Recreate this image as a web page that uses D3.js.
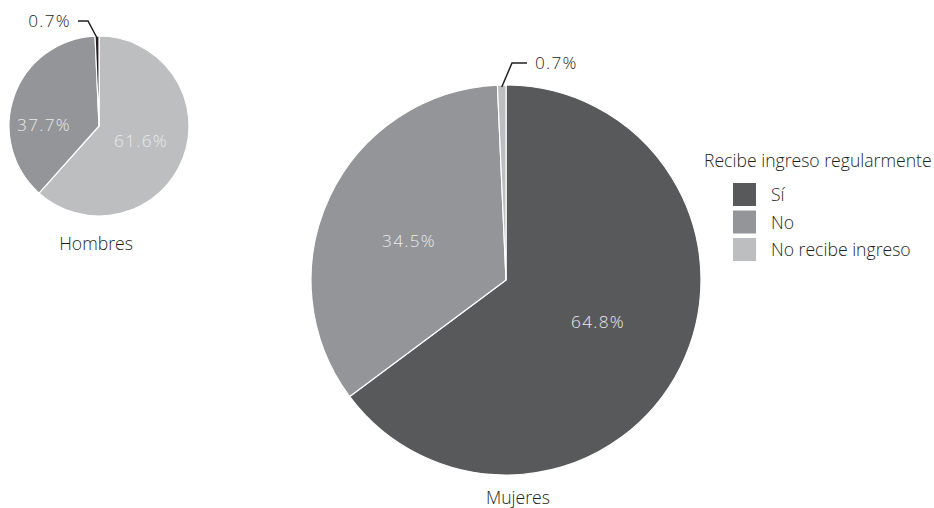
<!DOCTYPE html>
<html>
<head>
<meta charset="utf-8">
<script src="https://cdn.jsdelivr.net/npm/d3@7"></script>
<style>
  html, body { margin: 0; padding: 0; background: #ffffff; }
  svg { display: block; }
  text { font-family: "Open Sans", "Lato", sans-serif; font-weight: 300; }
</style>
</head>
<body>
<svg id="chart" width="934" height="508"></svg>
<script>
// Income categories and shares (%)
const categories = ["Sí", "No", "No recibe ingreso"];
const hombresValues = [61.6, 37.7, 0.7];
const mujeresValues = [64.8, 34.5, 0.7];
const legendTitle = "Recibe ingreso regularmente";
const groupNames = ["Hombres", "Mujeres"];

const legendColors = ["#58595b", "#939598", "#bcbec0"];
const hombresColors = ["#bcbec0", "#939598", "#231f20"];

const TEXT_SIZE = 17.6;
const NUM_SIZE = 17.2;
const NUM_SPACING = 1.3;

const svg = d3.select("#chart");
const pie = d3.pie().sort(null).value(d => d);
const fmt = v => d3.format(".1f")(v) + "%";

function drawPie(values, colors, cx, cy, r, labelOffsets, name, nameOffset) {
  const g = svg.append("g").attr("transform", `translate(${cx},${cy})`);
  const arcs = pie(values);
  const arc = d3.arc().innerRadius(0).outerRadius(r);
  g.selectAll("path").data(arcs).join("path")
    .attr("d", arc)
    .attr("fill", (d, i) => colors[i])
    .attr("stroke", "#ffffff")
    .attr("stroke-width", 1.2)
    .attr("stroke-linejoin", "round");
  // in-slice labels for the two large slices
  arcs.forEach((d, i) => {
    const o = labelOffsets[i];
    if (!o) return;
    g.append("text")
      .attr("x", o[0]).attr("y", o[1])
      .attr("text-anchor", "middle")
      .attr("dominant-baseline", "central")
      .attr("font-size", NUM_SIZE)
      .attr("letter-spacing", NUM_SPACING)
      .attr("fill", "#e9eaeb")
      .text(fmt(d.data));
  });
  g.append("text")
    .attr("x", nameOffset[0]).attr("y", nameOffset[1])
    .attr("text-anchor", "middle")
    .attr("dominant-baseline", "central")
    .attr("font-size", TEXT_SIZE)
    .attr("fill", "#231f20")
    .text(name);
  return { g, arcs, r };
}

function smallSliceCallout(p, bend, end, textX, anchor) {
  const d = p.arcs[2];
  const a = (d.startAngle + d.endAngle) / 2;
  const p0 = [Math.sin(a) * (p.r - 2), -Math.cos(a) * (p.r - 2)];
  p.g.append("path")
    .attr("d", d3.line()([p0, bend, end]))
    .attr("fill", "none").attr("stroke", "#231f20").attr("stroke-width", 1.5);
  p.g.append("text")
    .attr("x", textX).attr("y", end[1] - 1)
    .attr("text-anchor", anchor)
    .attr("dominant-baseline", "central")
    .attr("font-size", NUM_SIZE)
    .attr("letter-spacing", NUM_SPACING)
    .attr("fill", "#231f20")
    .text(fmt(d.data));
}

// Hombres
const h = drawPie(hombresValues, hombresColors, 99, 126, 90,
  [[42, 14], [-55, -2], null], groupNames[0], [-3, 117]);
smallSliceCallout(h, [-11, -105], [-21, -105], -28, "end");

// Mujeres
const m = drawPie(mujeresValues, legendColors, 506, 280, 195,
  [[92, 41], [-97, -40], null], groupNames[1], [12, 217]);
smallSliceCallout(m, [6, -217], [21, -217], 29, "start");

// Legend
const legend = svg.append("g").attr("transform", "translate(704,160)");
legend.append("text")
  .attr("x", 0).attr("y", 0)
  .attr("dominant-baseline", "central")
  .attr("font-size", TEXT_SIZE).attr("fill", "#231f20")
  .text(legendTitle);
const ly = d3.scaleBand().domain(categories).range([23, 23 + 3 * 27.5]);
const items = legend.selectAll("g.item").data(categories).join("g")
  .attr("class", "item")
  .attr("transform", d => `translate(29,${ly(d)})`);
items.append("rect")
  .attr("width", 23).attr("height", 23)
  .attr("fill", (d, i) => legendColors[i]);
items.append("text")
  .attr("x", 38).attr("y", 11)
  .attr("dominant-baseline", "central")
  .attr("font-size", TEXT_SIZE).attr("fill", "#231f20")
  .text(d => d);
</script>
</body>
</html>
